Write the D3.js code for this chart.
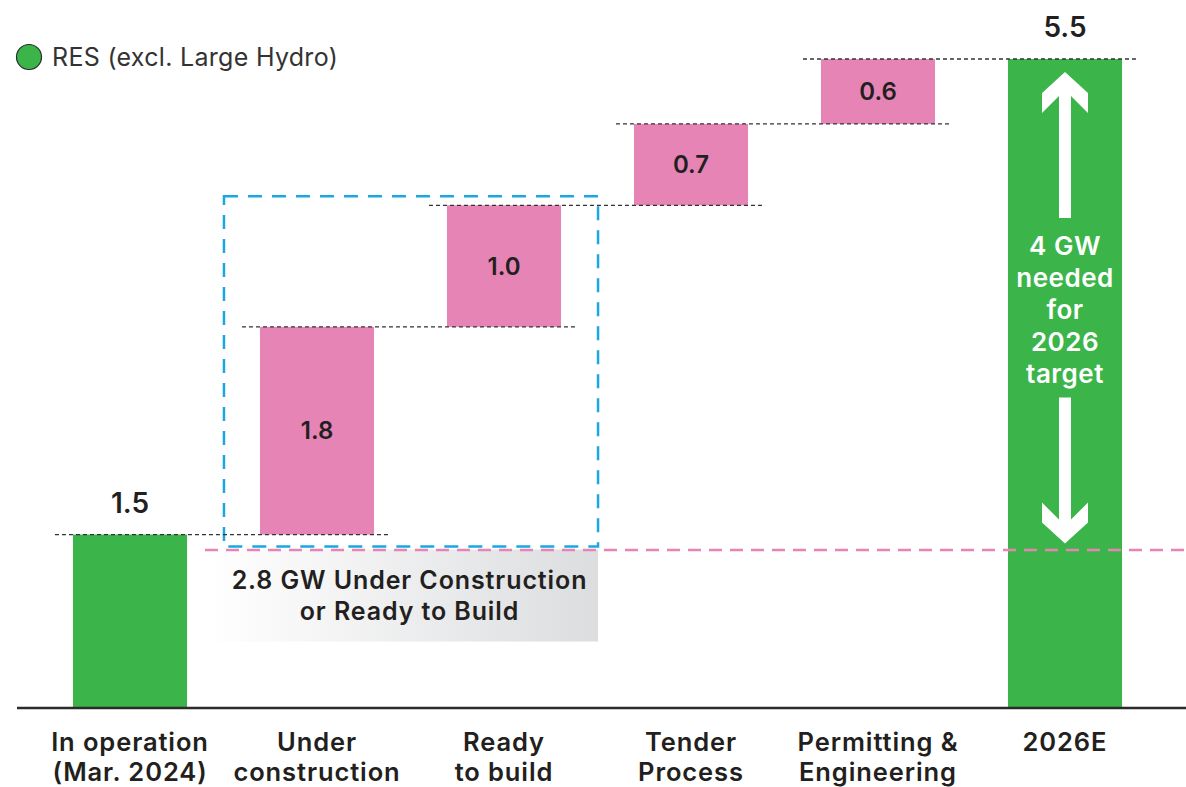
<!DOCTYPE html>
<html>
<head>
<meta charset="utf-8">
<script src="https://cdn.jsdelivr.net/npm/d3@7"></script>
<style>
  body { margin: 0; background: #fff; }
  svg { display: block; font-family: Inter, "Noto Sans", sans-serif; }
</style>
</head>
<body>
<svg id="chart" width="1186" height="787"></svg>
<script>
// data (GW)
var categories = [
  ["In operation", "(Mar. 2024)"],
  ["Under", "construction"],
  ["Ready", "to build"],
  ["Tender", "Process"],
  ["Permitting &", "Engineering"],
  ["2026E"]
];
var inOperation = 1.47;
var steps = [1.76, 1.03, 0.69, 0.55];   // shown rounded as 1.8, 1.0, 0.7, 0.6
var target = 5.5;
var legendLabel = "RES (excl. Large Hydro)";
var boxNote = ["2.8 GW Under Construction", "or Ready to Build"];
var targetNote = ["4 GW", "needed", "for", "2026", "target"];

var green = "#3bb54a", pink = "#e685b5", blue = "#1aa7e3", ink = "#231f20";

var svg = d3.select("#chart");
var fmt = d3.format(".1f");

var x = d3.scaleBand()
    .domain(d3.range(categories.length))
    .range([36.5, 1158.5])
    .paddingInner(0.39)
    .paddingOuter(0.195);

var y = d3.scaleLinear().domain([0, target]).range([708, 59]);

// build waterfall rows
var bars = [{i: 0, lo: 0, hi: inOperation, v: inOperation, kind: "total"}];
var acc = inOperation;
steps.forEach(function(s, k) {
  bars.push({i: k + 1, lo: acc, hi: acc + s, v: s, kind: "step"});
  acc += s;
});
bars.push({i: 5, lo: 0, hi: target, v: target, kind: "total"});

var bw = x.bandwidth();

// gray note box under the blue frame
var grad = svg.append("defs").append("linearGradient")
    .attr("id", "fade").attr("x1", "0%").attr("x2", "100%");
grad.append("stop").attr("offset", "0%").attr("stop-color", "#ffffff");
grad.append("stop").attr("offset", "100%").attr("stop-color", "#dcdddf");

var boxL = x(1) - 36, boxR = x(2) + bw + 37;
svg.append("rect")
    .attr("x", x(1) - 55).attr("y", y(inOperation) + 15)
    .attr("width", boxR - (x(1) - 55)).attr("height", 92)
    .attr("fill", "url(#fade)");

svg.selectAll(".note")
  .data(boxNote)
  .enter().append("text")
    .attr("x", (x(1) - 55 + boxR) / 2 + 8)
    .attr("y", function(d, k) { return 589 + k * 31; })
    .attr("text-anchor", "middle")
    .attr("font-size", 25).attr("font-weight", 600).attr("fill", ink)
    .attr("letter-spacing", 0.9)
    .text(function(d) { return d; });

// bars
svg.selectAll(".bar")
  .data(bars)
  .enter().append("rect")
    .attr("class", "bar")
    .attr("x", function(d) { return x(d.i); })
    .attr("width", bw)
    .attr("y", function(d) { return y(d.hi); })
    .attr("height", function(d) { return y(d.lo) - y(d.hi); })
    .attr("fill", function(d) { return d.kind == "total" ? green : pink; });

// pink reference line
svg.append("line")
    .attr("x1", x(1) - 55).attr("x2", 1186)
    .attr("y1", 550).attr("y2", 550)
    .attr("stroke", pink).attr("stroke-width", 2.5)
    .attr("stroke-dasharray", "13,8");

// blue frame round the under construction / ready to build bars
svg.append("rect")
    .attr("x", boxL).attr("y", y(bars[2].hi) - 9)
    .attr("width", boxR - boxL).attr("height", y(inOperation) + 12 - (y(bars[2].hi) - 9))
    .attr("fill", "none").attr("stroke", blue).attr("stroke-width", 2.5)
    .attr("stroke-dasharray", "14,10");

// connectors
svg.selectAll(".conn")
  .data(bars.slice(0, 5))
  .enter().append("line")
    .attr("x1", function(d) { return x(d.i) - 18; })
    .attr("x2", function(d) { return x(d.i + 1) + bw + 17; })
    .attr("y1", function(d) { return y(d.hi); })
    .attr("y2", function(d) { return y(d.hi); })
    .attr("stroke", "#333").attr("stroke-width", 1.3)
    .attr("stroke-dasharray", "4,3");

// value labels
svg.selectAll(".val")
  .data(bars)
  .enter().append("text")
    .attr("x", function(d) { return x(d.i) + bw / 2; })
    .attr("y", function(d) {
      return d.kind == "total" ? y(d.hi) - 22 : (y(d.lo) + y(d.hi)) / 2 + 8.5;
    })
    .attr("text-anchor", "middle")
    .attr("font-weight", 600).attr("fill", ink)
    .attr("font-size", function(d) { return d.kind == "total" ? 28 : 24; })
    .text(function(d) { return fmt(d.v); });

// arrows in the target bar
var cx = x(5) + bw / 2;
var up = y(target) + 13, down = y(inOperation) + 9;
svg.append("path")
    .attr("fill", "#fff")
    .attr("d", "M" + cx + "," + up + " l23,21 l0,20 l-17,-17 l0,122 l-12,0 l0,-122 l-17,17 l0,-20 z");
svg.append("path")
    .attr("fill", "#fff")
    .attr("d", "M" + cx + "," + down + " l23,-21 l0,-20 l-17,17 l0,-122 l-12,0 l0,122 l-17,-17 l0,20 z");

svg.selectAll(".tnote")
  .data(targetNote)
  .enter().append("text")
    .attr("x", cx)
    .attr("y", function(d, k) { return 255 + k * 32; })
    .attr("text-anchor", "middle")
    .attr("font-size", 26).attr("font-weight", 600).attr("fill", "#fff")
    .attr("letter-spacing", 0.5)
    .text(function(d) { return d; });

// axis baseline and category labels
svg.append("line")
    .attr("x1", 17).attr("x2", 1186)
    .attr("y1", y(0)).attr("y2", y(0))
    .attr("stroke", "#2b2b2b").attr("stroke-width", 2.5);

var cat = svg.selectAll(".cat")
  .data(categories)
  .enter().append("text")
    .attr("x", function(d, i) { return x(i) + bw / 2; })
    .attr("y", 751)
    .attr("text-anchor", "middle")
    .attr("font-size", 25.5).attr("font-weight", 600).attr("fill", ink)
    .attr("letter-spacing", 0.9);
cat.selectAll("tspan")
  .data(function(d) { return d; })
  .enter().append("tspan")
    .attr("x", function() { return d3.select(this.parentNode).attr("x"); })
    .attr("dy", function(d, k) { return k ? 29.5 : 0; })
    .text(function(d) { return d; });

// legend
svg.append("circle")
    .attr("cx", 29).attr("cy", 57).attr("r", 12.5)
    .attr("fill", green).attr("stroke", "#2b2b2b").attr("stroke-width", 1.2);
svg.append("text")
    .attr("x", 52).attr("y", 66)
    .attr("font-size", 25).attr("fill", "#333")
    .attr("letter-spacing", 0.3)
    .text(legendLabel);
</script>
</body>
</html>
